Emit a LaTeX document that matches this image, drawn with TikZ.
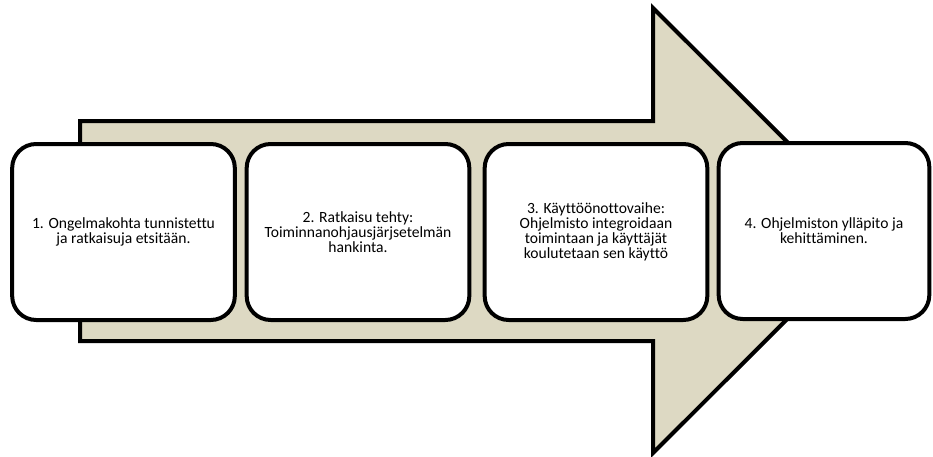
\documentclass[tikz,border=0pt]{standalone}
\usepackage{fontspec}
\setmainfont{Carlito}[Ligatures={NoCommon}]
\definecolor{arrowfill}{HTML}{DDD9C3}
\begin{document}
\begin{tikzpicture}[x=0.75pt,y=-0.75pt,
  stagebox/.style={draw=black, line width=3pt, fill=white, rounded corners=18pt,
    minimum width=167pt, minimum height=132pt, inner sep=0pt,
    align=center, font=\fontsize{11.7}{11.3}\selectfont},
  bigarrow/.style={draw=black, line width=3pt, fill=arrowfill, line join=miter}]
\useasboundingbox (0,0) rectangle (933,457);
\draw[bigarrow] (80,121) -- (653,121) -- (653,8) -- (876,230.5) -- (653,453) -- (653,341) -- (80,341) -- cycle;
\node[stagebox] (s1) at (123.5,232) {1. Ongelmakohta tunnistettu\\ja ratkaisuja etsitään.};
\node[stagebox] (s2) at (358,232) {2. Ratkaisu tehty:\\Toiminnanohjausjärjsetelmän\\hankinta.};
\node[stagebox] (s3) at (596,232) {3. Käyttöönottovaihe:\\Ohjelmisto integroidaan\\toimintaan ja käyttäjät\\koulutetaan sen käyttö};
\node[stagebox, minimum width=158pt] (s4) at (824,231) {4. Ohjelmiston ylläpito ja\\kehittäminen.};
\end{tikzpicture}
\end{document}
